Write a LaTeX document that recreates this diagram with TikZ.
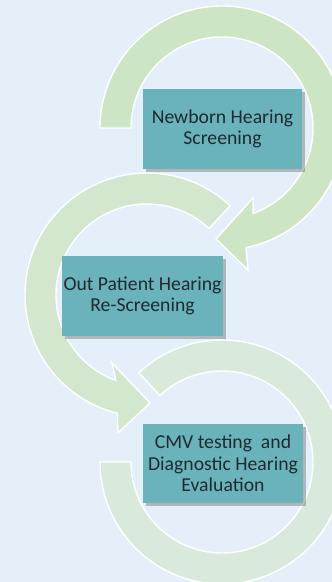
\documentclass[tikz,border=0pt]{standalone}
\usepackage{fontspec}
\setmainfont{Carlito}
\usetikzlibrary{shadows,calc}
\definecolor{bgc}{HTML}{E5EFF9}
\definecolor{arcA}{HTML}{CDE5C5}
\definecolor{arcB}{HTML}{D3E7CF}
\definecolor{arcC}{HTML}{D9E9DC}
\definecolor{boxc}{HTML}{6AB3BA}
\definecolor{txtc}{HTML}{1E2A30}
\tikzset{
  band/.style={draw=white, line width=1.4pt, line join=miter},
  stepbox/.style={fill=boxc, inner sep=0pt, align=center, text=txtc,
    font=\fontsize{19.7}{21.7}\selectfont,
    drop shadow={shadow xshift=2.5pt, shadow yshift=-3pt, opacity=0.35, fill=black!70}},
}
\begin{document}
\begin{tikzpicture}[x=1pt,y=1pt]
\useasboundingbox (0,0) rectangle (332,582);
\clip (0,0) rectangle (332,582);
\fill[bgc] (0,0) rectangle (332,582);
\coordinate (c1) at (222,454);
\coordinate (c2) at (147,287);
\coordinate (c3) at (222,120);
% bottom arc
\path[band, fill=arcC] ($(c3)+(133:122)$) arc[start angle=133, end angle=-180, radius=122]
  -- ($(c3)+(180:91)$) arc[start angle=-180, end angle=133, radius=91] -- cycle;
% middle arc with arrow
\path[band, fill=arcB] ($(c2)+(47:122)$) arc[start angle=47, end angle=256, radius=122]
  -- (118,149) -- (150,179) -- (112,219)
  -- ($(c2)+(250:91)$) arc[start angle=250, end angle=47, radius=91] -- cycle;
% top arc with arrow
\path[band, fill=arcA] ($(c1)+(180:122)$) arc[start angle=180, end angle=-78.6, radius=122]
  -- (248,312) -- (216,343) -- (253,384)
  -- ($(c1)+(-70:91)$) arc[start angle=-70, end angle=180, radius=91] -- cycle;
% boxes
\node[stepbox, minimum width=159pt, minimum height=80pt] (b1) at (222.5,453) {Newborn Hearing\\Screening};
\node[stepbox, minimum width=161pt, minimum height=80pt] (b2) at (142.5,286) {Out Patient Hearing\\Re-Screening};
\node[stepbox, minimum width=160pt, minimum height=79pt] (b3) at (223,118.5) {CMV testing \ and\\Diagnostic Hearing\\Evaluation};
\end{tikzpicture}
\end{document}
